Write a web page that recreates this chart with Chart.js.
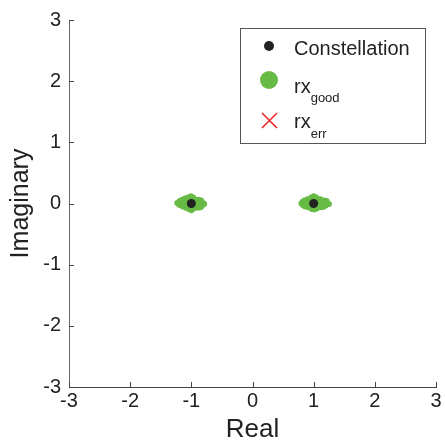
<!DOCTYPE html>
<html>
<head>
<meta charset="utf-8">
<script src="https://cdn.jsdelivr.net/npm/chart.js@4/dist/chart.umd.min.js"></script>
<style>
    html, body { margin: 0; padding: 0; background: #ffffff; }
    #wrap { width: 445px; height: 445px; }
</style>
</head>
<body>
<div id="wrap"><canvas id="constChart" width="445" height="445"></canvas></div>
<script>
// ideal BPSK points
const constellation = [[-1, 0], [1, 0]];

// received symbols (good)
const rxGoodLeft = [
    [-1.23, 0.01], [-1.19, 0.04], [-1.17, -0.03], [-1.15, 0.06], [-1.14, -0.05], [-1.12, 0.02],
    [-1.10, 0.08], [-1.09, -0.07], [-1.08, 0.04], [-1.06, -0.02], [-1.05, 0.10], [-1.04, -0.09],
    [-1.03, 0.05], [-1.02, -0.04], [-1.01, 0.12], [-1.00, -0.11], [-0.99, 0.07], [-0.98, -0.06],
    [-0.97, 0.10], [-0.96, -0.08], [-0.95, 0.03], [-0.94, -0.03], [-0.93, 0.06], [-0.92, -0.05],
    [-0.90, 0.04], [-0.89, -0.07], [-0.87, 0.02], [-0.86, -0.02], [-0.84, 0.05], [-0.83, -0.04],
    [-0.81, 0.01], [-0.79, -0.01], [-1.07, 0.00], [-0.97, 0.00], [-1.13, -0.01], [-0.91, 0.00],
    [-1.20, -0.02], [-0.85, -0.06], [-1.11, 0.07], [-0.88, 0.06]
];
const rxGoodRight = [
    [0.80, 0.00], [0.82, 0.03], [0.83, -0.03], [0.85, 0.05], [0.87, -0.04], [0.88, 0.02],
    [0.90, 0.07], [0.91, -0.06], [0.93, 0.03], [0.94, -0.02], [0.96, 0.10], [0.97, -0.09],
    [0.98, 0.05], [0.99, -0.04], [1.00, 0.12], [1.01, -0.10], [1.02, 0.08], [1.03, -0.06],
    [1.04, 0.10], [1.05, -0.08], [1.06, 0.03], [1.08, -0.03], [1.09, 0.06], [1.10, -0.05],
    [1.12, 0.04], [1.13, -0.06], [1.15, 0.02], [1.16, -0.02], [1.18, 0.05], [1.20, -0.03],
    [1.22, 0.01], [1.25, -0.01], [0.95, 0.00], [1.07, 0.00], [0.89, -0.01], [1.14, 0.00],
    [1.21, 0.04], [0.86, -0.05], [1.11, 0.07], [1.17, -0.05]
];

// received symbols (errors) - none in this run
const rxErr = [];

const axisTicks = [-3, -2, -1, 0, 1, 2, 3];

const FONT = 'Liberation Sans, Arial, sans-serif';
const GREEN = '#67bb45';
const toXY = (arr) => arr.map(([x, y]) => ({ x, y }));

// inward tick marks
const innerTicks = {
    id: 'innerTicks',
    afterDraw(chart) {
        const ctx = chart.ctx;
        const xs = chart.scales.x;
        const ys = chart.scales.y;
        const area = chart.chartArea;
        ctx.save();
        ctx.strokeStyle = '#444';
        ctx.lineWidth = 1;
        ctx.beginPath();
        axisTicks.forEach((v) => {
            const px = Math.round(xs.getPixelForValue(v)) + 0.5;
            ctx.moveTo(px, area.bottom);
            ctx.lineTo(px, area.bottom - 5);
            const py = Math.round(ys.getPixelForValue(v)) + 0.5;
            ctx.moveTo(area.left, py);
            ctx.lineTo(area.left + 5, py);
        });
        ctx.stroke();
        ctx.restore();
    }
};

// legend with subscripts
const subLegend = {
    id: 'subLegend',
    afterDraw(chart) {
        const ctx = chart.ctx;
        ctx.save();
        ctx.strokeStyle = '#555';
        ctx.lineWidth = 1;
        ctx.strokeRect(240.5, 28.5, 185, 115);

        ctx.fillStyle = '#222';
        ctx.beginPath();
        ctx.arc(269, 46, 5, 0, Math.PI * 2);
        ctx.fill();

        ctx.fillStyle = GREEN;
        ctx.beginPath();
        ctx.arc(269, 80, 9, 0, Math.PI * 2);
        ctx.fill();

        ctx.strokeStyle = '#ee2222';
        ctx.lineWidth = 1.5;
        ctx.beginPath();
        ctx.moveTo(262, 113); ctx.lineTo(277, 128);
        ctx.moveTo(277, 113); ctx.lineTo(262, 128);
        ctx.stroke();

        ctx.fillStyle = '#222';
        ctx.textBaseline = 'alphabetic';
        ctx.textAlign = 'left';
        ctx.font = '20px ' + FONT;
        const w = ctx.measureText('rx').width;
        ctx.fillText('Constellation', 294, 55);
        ctx.fillText('rx', 294, 93);
        ctx.fillText('rx', 294, 128);
        ctx.font = '13px ' + FONT;
        ctx.fillText('good', 294 + w, 102);
        ctx.fillText('err', 294 + w, 138);
        ctx.restore();
    }
};

new Chart(document.getElementById('constChart').getContext('2d'), {
    type: 'scatter',
    data: {
        datasets: [
            {
                label: 'Constellation',
                data: toXY(constellation),
                backgroundColor: '#222',
                borderWidth: 0,
                pointRadius: 4.5,
                order: 0,
            },
            {
                label: 'rx_good',
                data: toXY(rxGoodLeft.concat(rxGoodRight)),
                backgroundColor: GREEN,
                borderWidth: 0,
                pointRadius: 3,
                order: 1,
            },
            {
                label: 'rx_err',
                data: toXY(rxErr),
                pointStyle: 'crossRot',
                borderColor: '#ee2222',
                pointRadius: 8,
                order: 2,
            },
        ],
    },
    options: {
        responsive: false,
        animation: false,
        layout: { padding: { left: 0, right: 9, top: 20, bottom: 0 } },
        plugins: {
            legend: { display: false },
            tooltip: { enabled: false },
        },
        scales: {
            x: {
                type: 'linear',
                min: -3,
                max: 3,
                afterBuildTicks: (s) => { s.ticks = axisTicks.map((v) => ({ value: v })); },
                afterFit: (s) => { s.height = 58; },
                grid: { display: false, drawTicks: false },
                border: { display: true, color: '#444', width: 1 },
                ticks: { color: '#222', font: { family: FONT, size: 20 }, padding: 2, maxRotation: 0, minRotation: 0 },
                title: { display: true, text: 'Real', color: '#222', font: { family: FONT, size: 26 }, padding: 0 },
            },
            y: {
                type: 'linear',
                min: -3,
                max: 3,
                afterBuildTicks: (s) => { s.ticks = axisTicks.map((v) => ({ value: v })); },
                afterFit: (s) => { s.width = 69; },
                grid: { display: false, drawTicks: false },
                border: { display: true, color: '#666', width: 1 },
                ticks: { color: '#222', font: { family: FONT, size: 20 }, padding: 8, maxRotation: 0, minRotation: 0 },
                title: { display: true, text: 'Imaginary', color: '#222', font: { family: FONT, size: 25 }, padding: 6 },
            },
        },
    },
    plugins: [innerTicks, subLegend],
});
</script>
</body>
</html>
